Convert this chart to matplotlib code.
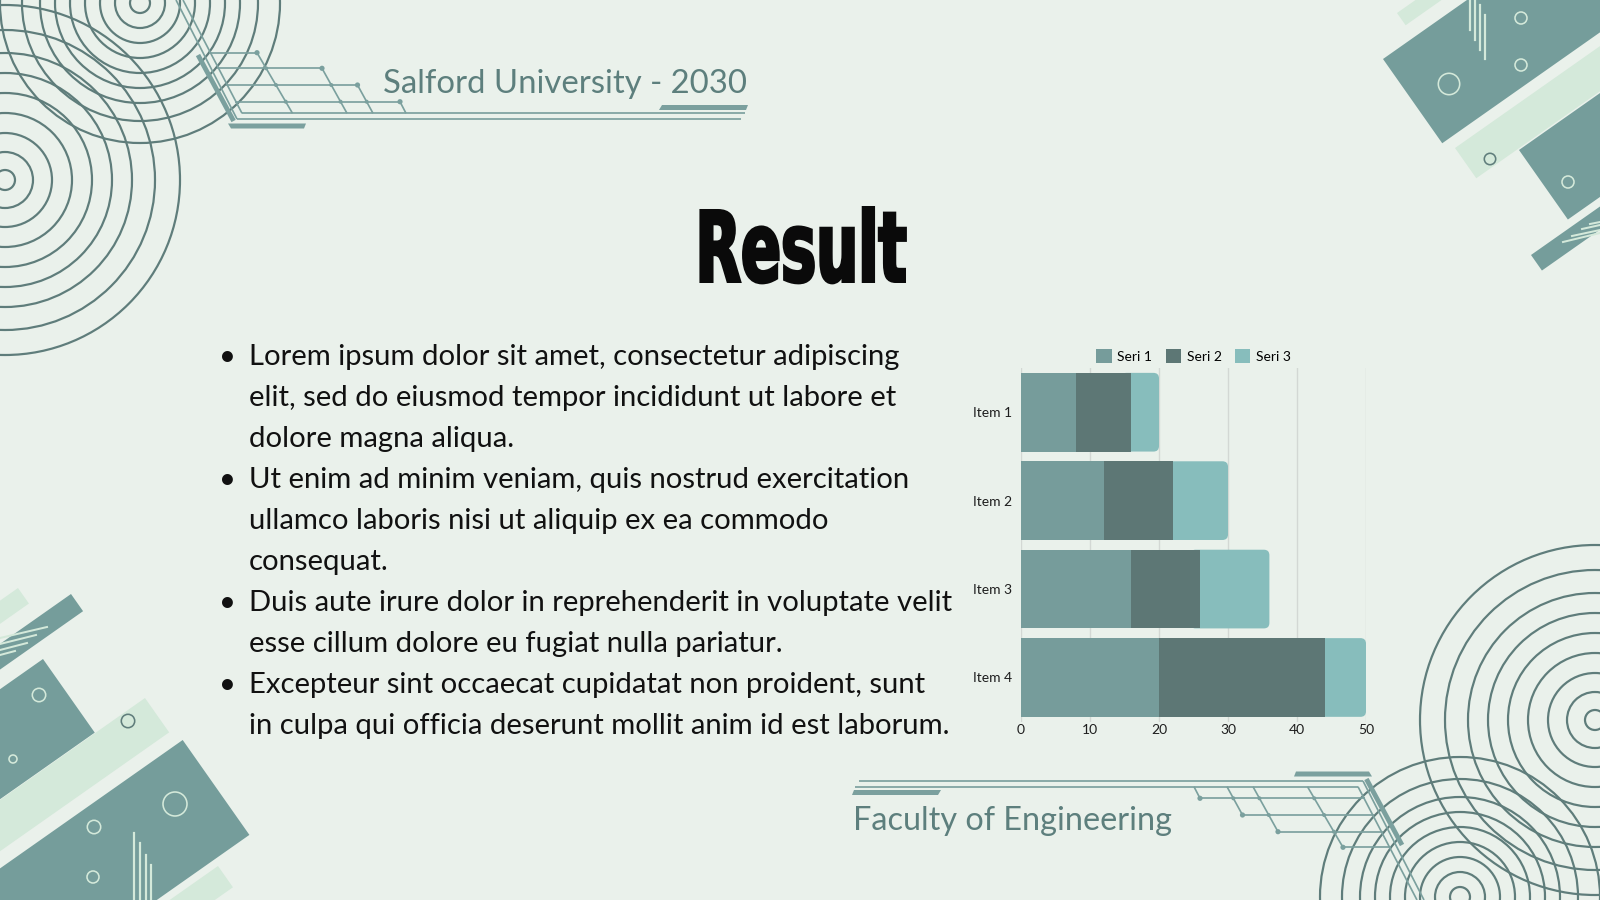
import matplotlib
matplotlib.use("Agg")
import matplotlib.pyplot as plt
import numpy as np
from matplotlib.patches import Polygon, Circle, FancyBboxPatch, Patch
from matplotlib.patheffects import AbstractPathEffect
from matplotlib.transforms import Affine2D

# ---------------- data ----------------
items = ["Item 1", "Item 2", "Item 3", "Item 4"]
series_names = ["Seri 1", "Seri 2", "Seri 3"]
seri1 = [8, 12, 16, 20]
seri2 = [8, 10, 10, 24]
seri3 = [4, 8, 10, 6]
x_ticks = [0, 10, 20, 30, 40, 50]

title_text = "Result"
header_text = "Salford University - 2030"
footer_text = "Faculty of Engineering"
bullet_lines = [
    ["Lorem ipsum dolor sit amet, consectetur adipiscing",
     "elit, sed do eiusmod tempor incididunt ut labore et",
     "dolore magna aliqua."],
    ["Ut enim ad minim veniam, quis nostrud exercitation",
     "ullamco laboris nisi ut aliquip ex ea commodo",
     "consequat."],
    ["Duis aute irure dolor in reprehenderit in voluptate velit",
     "esse cillum dolore eu fugiat nulla pariatur."],
    ["Excepteur sint occaecat cupidatat non proident, sunt",
     "in culpa qui officia deserunt mollit anim id est laborum."],
]

# ---------------- style ----------------
BG = "#eaf1eb"
TEAL = "#759d9b"
LIGHT = "#d4e9da"
RING = "#5f7d7b"
CIRC = "#7ba09e"
HEAD = "#5d7f7d"
C1, C2, C3 = "#769c9b", "#5d7775", "#87bdbc"
BODY_FONT = ["Lato", "DejaVu Sans"]
TITLE_FONT = ["DejaVu Sans"]

W, H = 1600, 900
fig = plt.figure(figsize=(16, 9), dpi=100, facecolor=BG)
bg = fig.add_axes([0, 0, 1, 1], zorder=0)
bg.set_xlim(0, W)
bg.set_ylim(H, 0)
bg.axis("off")
bg.set_facecolor(BG)

PX = 0.72  # points per pixel


class HScale(AbstractPathEffect):
    """Draw text glyphs horizontally condensed (and slightly emboldened)."""

    def __init__(self, sx, stroke_pt=0.0):
        super().__init__()
        self.sx = sx
        self.stroke_pt = stroke_pt

    def draw_path(self, renderer, gc, tpath, affine, rgbFace=None):
        gc0 = renderer.new_gc()
        gc0.copy_properties(gc)
        if self.stroke_pt > 0 and rgbFace is not None:
            gc0.set_linewidth(self.stroke_pt)
            gc0.set_foreground(rgbFace)
            gc0.set_joinstyle("miter")
        renderer.draw_path(gc0, tpath, Affine2D().scale(self.sx, 1) + affine, rgbFace)
        gc0.restore()


def rot_rect(p0, width, length, u, n, color, z=1):
    p0 = np.array(p0, float)
    u = np.array(u, float)
    n = np.array(n, float)
    pts = [p0, p0 + n * width, p0 + n * width + u * length, p0 + u * length]
    bg.add_patch(Polygon(pts, closed=True, fc=color, ec="none", zorder=z))


def ring(c, r, color, lw, z=3):
    bg.add_patch(Circle(c, r, fill=False, ec=color, lw=lw, zorder=z))


# ---------- concentric rings ----------
rA = [10, 25, 40, 55, 70, 85, 100, 118, 140]
rB = [10, 28, 47, 67, 87, 107, 127, 150, 175]
for r in rA:
    ring((140, 3), r, RING, 2.2 * PX)
    ring((W - 140, H - 3), r, RING, 2.2 * PX)
for r in rB:
    ring((5, 180), r, RING, 2.2 * PX)
    ring((W - 5, H - 180), r, RING, 2.2 * PX)

# ---------- circuit decoration (top-left and rotated copy bottom-right) ----------
def circuit(tf):
    def L(xs, ys, lw, color=CIRC):
        P = [tf(x, y) for x, y in zip(xs, ys)]
        bg.plot([p[0] for p in P], [p[1] for p in P], color=color, lw=lw,
                solid_capstyle="butt", zorder=4)

    def poly(pts, color=CIRC):
        bg.add_patch(Polygon([tf(x, y) for x, y in pts], closed=True,
                             fc=color, ec="none", zorder=4))

    def dot(x, y, r=2.6):
        bg.add_patch(Circle(tf(x, y), r, fc=CIRC, ec="none", zorder=4))

    thin = 1.7 * PX
    L([198, 233.6], [55, 121], 4.8 * PX)
    L([183, 242], [0, 113.3], thin)
    L([176, 237], [0, 119], thin)
    hl = [(209, 257, 52.7), (217, 322, 68.3), (226, 357.5, 85),
          (235, 400, 101.7), (242, 745, 113.3), (237, 741, 119)]
    for x0, x1, y in hl:
        L([x0, x1], [y, y], thin)
    sl = [(257, 52.7, 292.5), (322, 68.3, 347), (357.5, 85, 373), (400, 101.7, 406)]
    for x0, y0, x1 in sl:
        L([x0, x1], [y0, 113.3], thin)
        dot(x0, y0)
    for (x0, y0, x1) in sl:
        k = (x1 - x0) / (113.3 - y0)
        for (_, _, yy) in hl[:4]:
            if yy > y0 + 1:
                dot(x0 + k * (yy - y0), yy, 2.0)
    poly([(228, 123.5), (306, 123.5), (304, 128.5), (231, 128.5)])
    poly([(662, 105), (748, 105), (746, 110), (659, 110)])


circuit(lambda x, y: (x, y))
circuit(lambda x, y: (W - x, H - y))

# ---------- rotated rectangles ----------
u_ur = (0.818, -0.575)
n_dr = (0.575, 0.818)
u_dl = (-0.818, 0.575)

rot_rect((1397, 13), 15, 150, u_ur, n_dr, LIGHT)
rot_rect((1383, 59), 103, 400, u_ur, n_dr, TEAL)
rot_rect((1455, 148), 37, 400, u_ur, n_dr, LIGHT)
rot_rect((1519, 150), 85, 300, u_ur, n_dr, TEAL, z=1.5)
rot_rect((1531, 255), 19, 200, u_ur, n_dr, TEAL)

rot_rect((18, 588), 19, 80, u_dl, n_dr, LIGHT)
rot_rect((71, 594), 21, 200, u_dl, n_dr, TEAL)
rot_rect((43, 659), 90, 300, u_dl, n_dr, TEAL)
rot_rect((145, 698), 42, 400, u_dl, n_dr, LIGHT)
rot_rect((182.7, 740), 116, 500, u_dl, n_dr, TEAL)
rot_rect((218, 866), 26, 120, u_dl, n_dr, LIGHT)

for c, r, col in [((1449, 84), 10.7, LIGHT), ((1521, 18), 6, LIGHT), ((1521, 65), 6, LIGHT),
                  ((1490, 159), 5.7, RING), ((1568, 182), 6, LIGHT),
                  ((39, 695), 6.7, LIGHT), ((13, 759), 4, LIGHT), ((128, 721), 6.7, RING),
                  ((175, 804), 12, LIGHT), ((94, 827), 6.7, LIGHT), ((93, 877), 6, LIGHT)]:
    ring(c, r, col, 1.6 * PX, z=2)

for x, y0, y1 in [(1470, 0, 30), (1475, 0, 40), (1480, 5, 50), (1485, 15, 59)]:
    bg.plot([x, x], [y0, y1], color=LIGHT, lw=2.2 * PX, zorder=2)
for x, y0, y1 in [(134, 833, 900), (140, 843, 900), (146, 855, 900), (151, 865, 900)]:
    bg.plot([x, x], [y0, y1], color=LIGHT, lw=2.2 * PX, zorder=2)

for (x0, y0, x1, y1) in [(1563, 242, 1600, 233), (1572, 236, 1600, 230),
                         (1582, 229, 1600, 225), (1590, 224, 1600, 222)]:
    bg.plot([x0, x1], [y0, y1], color=LIGHT, lw=2.0 * PX, zorder=2)
for (x0, y0, x1, y1) in [(0, 638, 47, 627), (0, 644, 36, 635),
                         (0, 650, 27, 643), (0, 655, 15, 651)]:
    bg.plot([x0, x1], [y0, y1], color=LIGHT, lw=2.0 * PX, zorder=2)

# ---------- texts ----------
renderer = fig.canvas.get_renderer()


def fit(t, target_w):
    bb = t.get_window_extent(renderer)
    t.set_fontsize(t.get_fontsize() * target_w / bb.width)


th = bg.text(383, 93, header_text, fontsize=22, color=HEAD, family=BODY_FONT,
             ha="left", va="baseline", zorder=5)
fit(th, 363)
tf_ = bg.text(853, 830, footer_text, fontsize=22, color=HEAD, family=BODY_FONT,
              ha="left", va="baseline", zorder=5)
fit(tf_, 317)

# title: bold, horizontally condensed
stroke_px = 3.0
cap_target = 74.0 - stroke_px
title_fs = cap_target / 0.729 * PX
tt = bg.text(0, 283 - stroke_px / 2, title_text, fontsize=title_fs, color="#0a0a0a",
             family=TITLE_FONT, weight="bold", ha="left", va="baseline", zorder=5)
tw = tt.get_window_extent(renderer).width
sx = (214.0 - stroke_px) / tw
tt.set_x(694 + stroke_px / 2)
tt.set_path_effects([HScale(sx, stroke_px * PX)])

# body
base0 = 365
step = 41
longest = bullet_lines[3][1]
probe = bg.text(249, -100, longest, fontsize=19, family=BODY_FONT)
bb = probe.get_window_extent(renderer)
body_fs = 19 * 702 / bb.width
probe.remove()

k = 0
for para in bullet_lines:
    for j, line in enumerate(para):
        y = base0 + k * step
        if j == 0:
            bg.text(227, y, "\u2022", fontsize=body_fs, family=BODY_FONT, color="#111111",
                    ha="center", va="baseline", zorder=5)
        bg.text(249, y, line, fontsize=body_fs, family=BODY_FONT, color="#111111",
                ha="left", va="baseline", zorder=5)
        k += 1

# ---------------- chart ----------------
ax_l, ax_r = 1021, 1366
ax_t, ax_b = 368, 721.7
ax = fig.add_axes([ax_l / W, 1 - ax_b / H, (ax_r - ax_l) / W, (ax_b - ax_t) / H], zorder=2)
ax.set_facecolor("none")
ypos = np.arange(len(items))
bh = 0.89
s1 = np.array(seri1, float)
s2 = np.array(seri2, float)
s3 = np.array(seri3, float)

ax.barh(ypos, s1, height=bh, color=C1, zorder=3)
ax.barh(ypos, s2, left=s1, height=bh, color=C2, zorder=3)
bars3 = ax.barh(ypos, s3, left=s1 + s2, height=bh, color=C3, zorder=2)

ax.set_xlim(0, 50)
ax.set_ylim(len(items) - 0.5, -0.5)
px_x = (ax_r - ax_l) / 50.0
px_y = (ax_b - ax_t) / len(items)
asp = px_x / px_y
for b in bars3:
    x0, y0, w, hh = b.get_x(), b.get_y(), b.get_width(), b.get_height()
    b.remove()
    ax.add_patch(FancyBboxPatch((x0 - 1.5, y0), w + 1.5, hh,
                                boxstyle="round,pad=0,rounding_size=0.8",
                                mutation_aspect=asp, fc=C3, ec="none", zorder=2))

ax.set_xticks(x_ticks)
ax.set_xticklabels([str(v) for v in x_ticks])
ax.set_yticks(ypos)
ax.set_yticklabels(items)
ax.tick_params(axis="both", length=0, labelsize=10, labelcolor="#1e1e1e")
ax.tick_params(axis="x", pad=2)
ax.tick_params(axis="y", pad=6.5)
for lab in ax.get_xticklabels() + ax.get_yticklabels():
    lab.set_family(BODY_FONT)
for s in ax.spines.values():
    s.set_visible(False)
ax.grid(axis="x", color="#d3d8d4", lw=1.0, zorder=0)
ax.set_axisbelow(True)

handles = [Patch(facecolor=c, edgecolor="none", label=n)
           for c, n in zip([C1, C2, C3], series_names)]
leg = ax.legend(handles=handles, loc="center", bbox_to_anchor=(0.5, 1 + 12 / (ax_b - ax_t)),
                ncol=3, frameon=False, handlelength=1.12, handleheight=1.12,
                handletextpad=0.4, columnspacing=0.95, borderpad=0, borderaxespad=0,
                prop={"family": BODY_FONT, "size": 10})

fig.savefig("out.png", dpi=100, facecolor=BG)
